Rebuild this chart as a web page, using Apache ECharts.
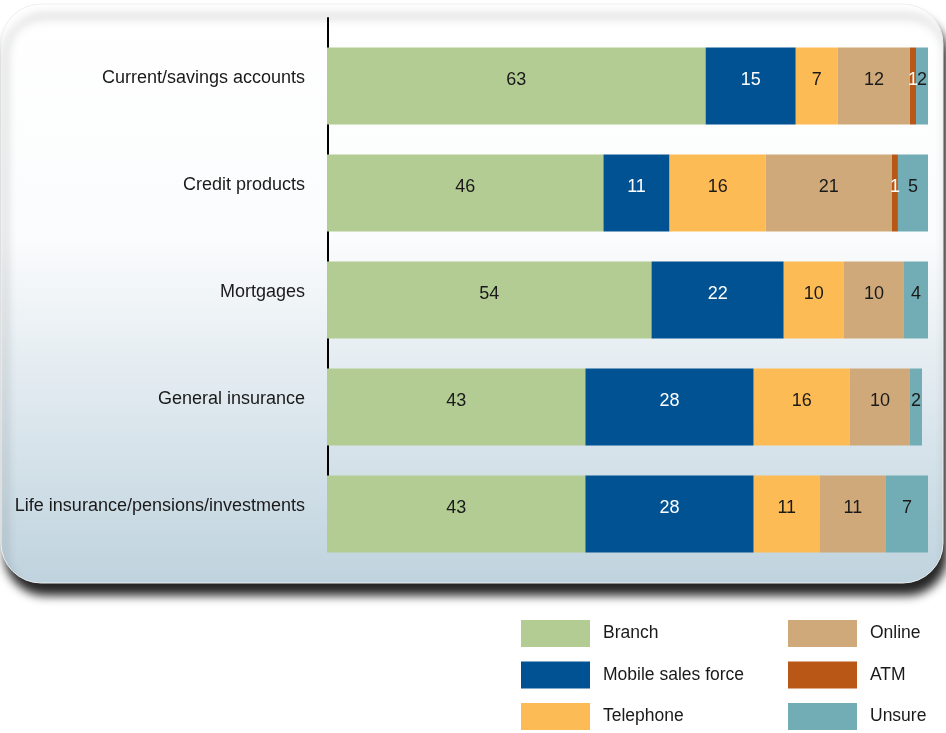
<!DOCTYPE html>
<html>
<head>
<meta charset="utf-8">
<script src="https://cdn.jsdelivr.net/npm/echarts@6/dist/echarts.min.js"></script>
<style>
  html, body { margin: 0; padding: 0; background: #ffffff; }
  #chart { width: 946px; height: 733px; }
</style>
</head>
<body>
<div id="chart"></div>
<script>
// Preferred channel by product type (% of respondents)
const categories = [
  'Current/savings accounts',
  'Credit products',
  'Mortgages',
  'General insurance',
  'Life insurance/pensions/investments'
];
const branch    = [63, 46, 54, 43, 43];
const mobile    = [15, 11, 22, 28, 28];
const telephone = [7, 16, 10, 16, 11];
const online    = [12, 21, 10, 10, 11];
const atm       = [1, 1, null, null, null];
const unsure    = [2, 5, 4, 2, 7];

const seriesNames = ['Branch', 'Mobile sales force', 'Telephone', 'Online', 'ATM', 'Unsure'];
const seriesData  = [branch, mobile, telephone, online, atm, unsure];
const colors      = ['#b3cc94', '#005293', '#fdbb55', '#cfa979', '#b95716', '#72adb5'];
const labelColors = ['#1a1a1a', '#ffffff', '#1a1a1a', '#1a1a1a', '#ffffff', '#1a1a1a'];

const FONT = '"Liberation Sans", Arial, sans-serif';

const chart = echarts.init(document.getElementById('chart'), null, { renderer: 'canvas' });

const series = seriesNames.map((name, i) => ({
  name,
  type: 'bar',
  stack: 'total',
  xAxisIndex: 0,
  yAxisIndex: 0,
  barWidth: 77,
  z: 5,
  itemStyle: { color: colors[i] },
  label: {
    show: true,
    position: 'inside',
    offset: [0, -6],
    color: labelColors[i],
    fontFamily: FONT,
    fontSize: 18,
    formatter: p => (p.value == null ? '' : p.value)
  },
  emphasis: { disabled: true },
  data: seriesData[i]
}));

const legendBase = {
  orient: 'vertical',
  top: 620,
  height: 120,
  padding: 0,
  itemWidth: 69,
  itemHeight: 27,
  itemGap: 14.5,
  icon: 'rect',
  selectedMode: false,
  textStyle: { fontFamily: FONT, fontSize: 17.5, color: '#1a1a1a', padding: [6, 0, 0, 8] }
};

chart.setOption({
  animation: false,
  backgroundColor: '#ffffff',
  color: colors,
  graphic: [{
    type: 'rect',
    z: -10,
    silent: true,
    shape: { x: 1, y: 4, width: 942, height: 579, r: 40 },
    style: {
      fill: new echarts.graphic.LinearGradient(0, 0, 0, 1, [
        { offset: 0, color: '#ffffff' },
        { offset: 0.4, color: '#fbfcfd' },
        { offset: 1, color: '#bfd3de' }
      ]),
      stroke: '#eceff1',
      lineWidth: 1,
      shadowColor: 'rgba(0,0,0,0.85)',
      shadowBlur: 10,
      shadowOffsetX: 4,
      shadowOffsetY: 12
    }
  }],
  legend: [
    Object.assign({ data: seriesNames.slice(0, 3), left: 521 }, legendBase),
    Object.assign({ data: seriesNames.slice(3), left: 788 }, legendBase)
  ],
  grid: [
    { left: 327, right: 18, top: 32.5, height: 535, containLabel: false },
    { left: 328, right: 18, top: 18, bottom: 182, containLabel: false }
  ],
  xAxis: [
    { gridIndex: 0, type: 'value', min: 0, max: 100, show: false },
    { gridIndex: 1, type: 'value', min: 0, max: 100, show: false }
  ],
  yAxis: [
    {
      gridIndex: 0,
      type: 'category',
      inverse: true,
      data: categories,
      axisLine: { show: false },
      axisTick: { show: false },
      splitLine: { show: false },
      axisLabel: {
        margin: 22,
        fontFamily: FONT,
        fontSize: 18,
        lineHeight: 15,
        verticalAlign: 'bottom',
        color: '#1a1a1a'
      }
    },
    {
      gridIndex: 1,
      type: 'category',
      inverse: true,
      data: categories,
      z: 1,
      axisLine: { show: true, lineStyle: { color: '#000000', width: 2 } },
      axisTick: { show: false },
      axisLabel: { show: false },
      splitLine: { show: false }
    }
  ],
  series
});
</script>
</body>
</html>
